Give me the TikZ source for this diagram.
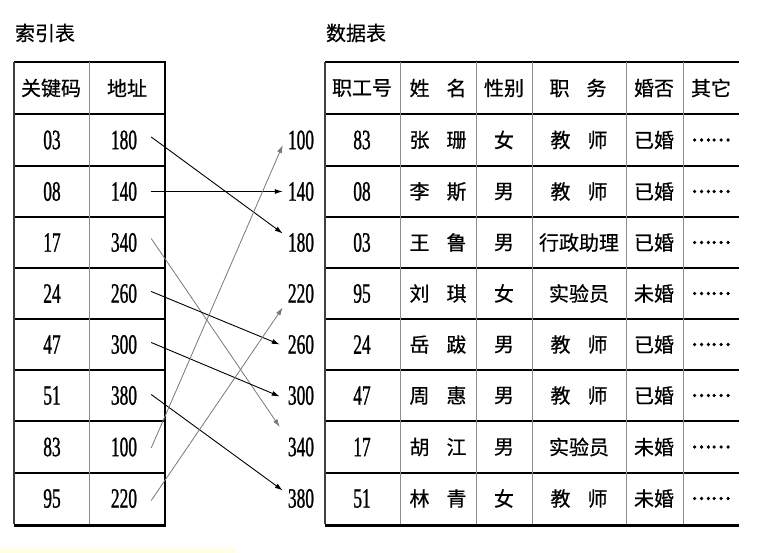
\documentclass[tikz,border=0pt]{standalone}
\usepackage{fontspec}
\newfontfamily\cjk{Noto Sans CJK SC}[FakeBold=0.6]
\newfontfamily\cjkdots{Noto Sans CJK SC}[FakeBold=4]
\newfontfamily\dig{Liberation Serif}[FakeStretch=0.62,FakeBold=0.9]
\usetikzlibrary{arrows.meta}
\definecolor{paleyellow}{RGB}{255,255,228}
\definecolor{gridgray}{RGB}{140,140,140}
\definecolor{arrowgray}{RGB}{120,120,120}
\tikzset{
  zh/.style={font=\cjk\fontsize{20}{20}\selectfont, inner sep=0pt},
  dotstext/.style={font=\cjkdots\fontsize{18.5}{18.5}\selectfont, inner sep=0pt},
  num/.style={font=\dig\fontsize{28}{28}\selectfont, inner sep=0pt},
  hline/.style={line width=1.3pt, black},
  vline/.style={line width=1pt, gridgray},
  edge/.style={line width=1.1pt, black!75},
  shadowline/.style={line width=3.5pt, black},
  arrb/.style={-{Latex[length=8pt,width=5pt]}, line width=0.9pt, black},
  arrg/.style={-{Latex[length=8pt,width=5pt]}, line width=0.8pt, arrowgray},
}
\begin{document}
\begin{tikzpicture}[x=1pt,y=-1pt]
\useasboundingbox (0,0) rectangle (782,553);
\fill[paleyellow] (0,548) rectangle (235,553);

% titles
\node[zh] (t1) at (45,33) {索引表};
\node[zh] (t2) at (356,33) {数据表};

% ---------- index table grid ----------
\foreach \y in {62,114,166,217,268,319,370,421,473}
  \draw[hline] (14,\y) -- (165,\y);
\draw[vline] (89,62) -- (89,524);
\draw[edge] (14,62) -- (14,524);
\draw[line width=2.2pt] (165,61.5) -- (165,527);
\draw[shadowline] (14,525.5) -- (166,525.5);

% ---------- data table grid ----------
\foreach \y in {62,114,166,217,268,319,370,421,473}
  \draw[hline] (325,\y) -- (739,\y);
\foreach \x in {400,476,532,626,683}
  \draw[vline] (\x,62) -- (\x,524);
\draw[edge] (325,62) -- (325,524);
\draw[shadowline] (325,525.5) -- (739,525.5);

% ---------- index table text ----------
\node[zh] (ih1) at (51,88) {关键码};
\node[zh] (ih2) at (127,88) {地址};
\foreach \k/\a/\y [count=\i] in {03/180/140,08/140/191.5,17/340/242.5,24/260/293.5,47/300/344.5,51/380/395.5,83/100/447,95/220/498.5}{
  \node[num] (k\i) at (52,\y) {\k};
  \node[num] (a\i) at (124,\y) {\a};
}

% ---------- middle addresses ----------
\foreach \m/\y in {100/140,140/191.5,180/242.5,220/293.5,260/344.5,300/395.5,340/447,380/498.5}
  \node[num] (m\m) at (301,\y) {\m};

% ---------- data table text ----------
\node[zh] (dh1) at (362,88) {职工号};
\node[zh] (dh2) at (438,88) {姓\hspace{0.85em}名};
\node[zh] (dh3) at (504,88) {性别};
\node[zh] (dh4) at (578,88) {职\hspace{0.85em}务};
\node[zh] (dh5) at (654,88) {婚否};
\node[zh] (dh6) at (711,88) {其它};

\foreach \n/\fa/\fb/\s/\job/\mar/\y [count=\i] in {
  83/张/珊/女/{教\hspace{0.85em}师}/已婚/140,
  08/李/斯/男/{教\hspace{0.85em}师}/已婚/191.5,
  03/王/鲁/男/{行政助理}/已婚/242.5,
  95/刘/琪/女/{实验员}/未婚/293.5,
  24/岳/跋/男/{教\hspace{0.85em}师}/已婚/344.5,
  47/周/惠/男/{教\hspace{0.85em}师}/已婚/395.5,
  17/胡/江/男/{实验员}/未婚/447,
  51/林/青/女/{教\hspace{0.85em}师}/未婚/498.5}{
  \node[num] (n\i) at (362,\y) {\n};
  \node[zh] (nm\i) at (438,\y) {\fa\hspace{0.85em}\fb};
  \node[zh] (s\i) at (504,\y) {\s};
  \node[zh] (j\i) at (579,\y) {\job};
  \node[zh] (mr\i) at (654,\y) {\mar};
  \node[dotstext] (o\i) at (711,\y) {……};
}

% ---------- arrows ----------
\draw[arrb] ([xshift=14pt,yshift=3pt]a1.east) -- ([xshift=-5pt,yshift=9pt]m180.west);
\draw[arrb] ([xshift=14pt]a2.east) -- ([xshift=-5pt]m140.west);
\draw[arrg] ([xshift=14pt,yshift=4pt]a3.east) -- ([xshift=-8pt,yshift=20pt]m340.west);
\draw[arrb] ([xshift=14pt,yshift=2pt]a4.east) -- ([xshift=-8pt]m260.west);
\draw[arrb] ([xshift=14pt,yshift=2pt]a5.east) -- ([xshift=-8pt,yshift=-1pt]m300.west);
\draw[arrb] ([xshift=14pt,yshift=1pt]a6.east) -- ([xshift=-5pt,yshift=8pt]m380.west);
\draw[arrg] ([xshift=14pt,yshift=-1pt]a7.east) -- ([xshift=-5pt,yshift=-5pt]m100.west);
\draw[arrg] ([xshift=14pt,yshift=-2pt]a8.east) -- ([xshift=-5pt,yshift=-14pt]m220.west);
\end{tikzpicture}
\end{document}
